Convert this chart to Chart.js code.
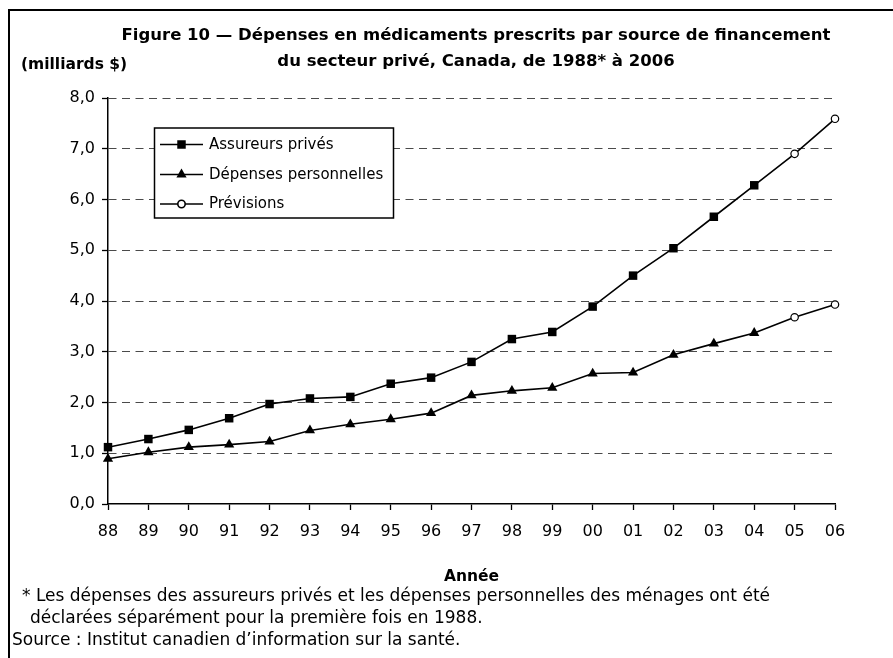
<!DOCTYPE html>
<html><head><meta charset="utf-8">
<script src="https://cdn.jsdelivr.net/npm/chart.js@4.4.1/dist/chart.umd.min.js"></script>
<style>
html,body{margin:0;padding:0;background:#fff;}
#wrap{position:relative;width:893px;height:658px;overflow:hidden;font-family:"DejaVu Sans",sans-serif;color:#000;}
canvas{position:absolute;left:0;top:0;}
.frame{position:absolute;left:8px;top:9px;width:900px;height:700px;border-left:2px solid #000;border-top:2px solid #000;}
.t{position:absolute;white-space:nowrap;}
</style></head>
<body><div id="wrap">
<div class="frame"></div>
<canvas id="c" width="893" height="658"></canvas>
<div class="t" style="left:76px;width:800px;top:22px;text-align:center;font-weight:bold;font-size:16.5px;line-height:26px;">Figure 10 — Dépenses en médicaments prescrits par source de financement<br>du secteur privé, Canada, de 1988* à 2006</div>
<div class="t" style="left:21px;top:53px;font-weight:bold;font-size:15.5px;line-height:22px;">(milliards $)</div>
<div class="t" style="left:22px;top:584px;font-size:17px;line-height:22px;">* Les dépenses des assureurs privés et les dépenses personnelles des ménages ont été</div>
<div class="t" style="left:30px;top:606px;font-size:17px;line-height:22px;">déclarées séparément pour la première fois en 1988.</div>
<div class="t" style="left:12px;top:628px;font-size:17px;line-height:22px;">Source : Institut canadien d’information sur la santé.</div>
</div>
<script>
const years = ['88','89','90','91','92','93','94','95','96','97','98','99','00','01','02','03','04','05','06'];
const assureursPrives = [1.12,1.28,1.46,1.69,1.97,2.08,2.11,2.37,2.49,2.80,3.25,3.39,3.89,4.50,5.04,5.66,6.28,null,null];
const depensesPersonnelles = [0.89,1.02,1.12,1.17,1.23,1.45,1.57,1.67,1.79,2.14,2.23,2.29,2.57,2.59,2.94,3.16,3.37,null,null];
const previsionsAssureurs = [null,null,null,null,null,null,null,null,null,null,null,null,null,null,null,null,6.28,6.90,7.59];
const previsionsPersonnelles = [null,null,null,null,null,null,null,null,null,null,null,null,null,null,null,null,3.37,3.68,3.93];
const legendLabels = ['Assureurs privés','Dépenses personnelles','Prévisions'];
const yMin = 0, yMax = 8, yStep = 1;

Chart.defaults.font.family = "'DejaVu Sans', sans-serif";
Chart.defaults.color = '#000';

const firstForecastLink = 16;
const lineBase = {borderColor:'#000', borderWidth:1.6, tension:0, clip:false, fill:false};

const legendPlugin = {
  id:'boxLegend',
  afterDraw(chart){
    const ctx = chart.ctx;
    ctx.save();
    ctx.fillStyle = '#fff';
    ctx.fillRect(154.5,128,239,90);
    ctx.strokeStyle = '#000';
    ctx.lineWidth = 1.5;
    ctx.strokeRect(154.5,128,239,90);
    const rows = chart.data.datasets.filter(d => !d.hideInLegend);
    const ys = [144.5,174.5,204];
    rows.forEach((ds,i) => {
      const y = ys[i];
      ctx.strokeStyle = '#000';
      ctx.lineWidth = 1.6;
      ctx.beginPath(); ctx.moveTo(160,y); ctx.lineTo(203,y); ctx.stroke();
      ctx.fillStyle = ds.pointBackgroundColor;
      ctx.strokeStyle = '#000';
      Chart.helpers.drawPoint(ctx, {pointStyle: ds.pointStyle, radius: ds.legendRadius, borderWidth: ds.pointBorderWidth, rotation:0}, 181.5, y);
      ctx.fillStyle = '#000';
      ctx.font = "15px 'DejaVu Sans', sans-serif";
      ctx.textBaseline = 'middle';
      ctx.textAlign = 'left';
      ctx.fillText(ds.label, 209, y+0.5);
    });
    ctx.restore();
  }
};

new Chart(document.getElementById('c'), {
  type:'line',
  data:{
    labels: years,
    datasets:[
      Object.assign({}, lineBase, {label:legendLabels[0], data:assureursPrives, pointStyle:'rect', pointRadius:6, legendRadius:6, pointBackgroundColor:'#000', pointBorderColor:'#000', pointBorderWidth:0}),
      Object.assign({}, lineBase, {label:legendLabels[1], data:depensesPersonnelles, pointStyle:'triangle', pointRadius:5.9, legendRadius:5.9, pointBackgroundColor:'#000', pointBorderColor:'#000', pointBorderWidth:0}),
      Object.assign({}, lineBase, {label:legendLabels[2], data:previsionsAssureurs, pointStyle:'circle', pointRadius:c => c.dataIndex===firstForecastLink?0:3.7, legendRadius:3.7, pointBackgroundColor:'#fff', pointBorderColor:'#000', pointBorderWidth:1.2}),
      Object.assign({}, lineBase, {label:legendLabels[2], hideInLegend:true, data:previsionsPersonnelles, pointStyle:'circle', pointRadius:c => c.dataIndex===firstForecastLink?0:3.7, legendRadius:3.7, pointBackgroundColor:'#fff', pointBorderColor:'#000', pointBorderWidth:1.2})
    ]
  },
  options:{
    responsive:false,
    devicePixelRatio:1,
    animation:false,
    events:[],
    layout:{padding:{left:0, top:98, right:58, bottom:72}},
    plugins:{legend:{display:false}, title:{display:false}, tooltip:{enabled:false}},
    scales:{
      x:{
        type:'category', offset:false,
        grid:{display:true, drawOnChartArea:false, drawTicks:true, tickLength:6, tickColor:'#000', tickWidth:1.3},
        border:{display:true, color:'#000', width:1.5},
        ticks:{font:{size:16}, color:'#000', padding:12, maxRotation:0, autoSkip:false},
        title:{display:true, text:'Année', font:{size:15.5, weight:'bold'}, color:'#000', padding:0},
        afterFit:s => { s.height = 82; }
      },
      y:{
        min:yMin, max:yMax,
        ticks:{stepSize:yStep, font:{size:16}, color:'#000', padding:7, callback:v => v.toFixed(1).replace('.', ',')},
        grid:{color:c => (c.tick && c.tick.value===0) ? 'rgba(0,0,0,0)' : '#4a4a4a', lineWidth:1, drawTicks:true, tickLength:6, tickColor:'#000', tickWidth:1.3, tickBorderDash:[]},
        border:{display:true, color:'#000', width:1.5, dash:[8,5.5]},
        afterFit:s => { s.width = 108; }
      }
    }
  },
  plugins:[legendPlugin]
});
</script>
</body></html>
